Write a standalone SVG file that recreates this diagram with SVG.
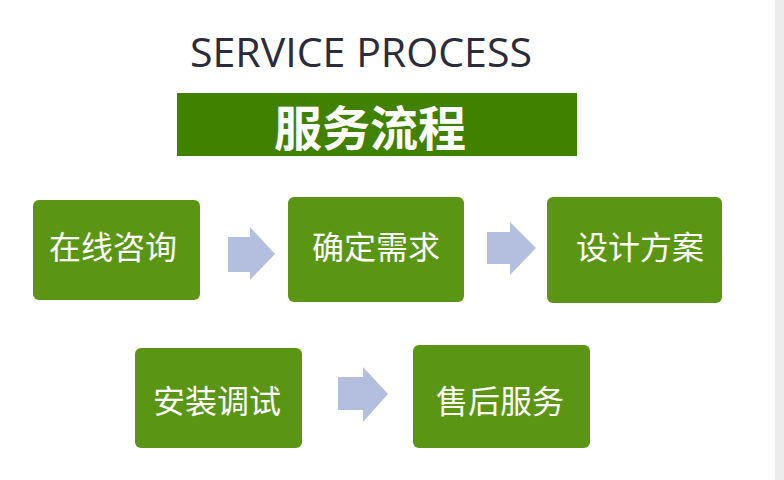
<svg xmlns="http://www.w3.org/2000/svg" width="784" height="480" viewBox="0 0 784 480">
<style>
.box{fill:#5a9614;}
.lbl{font-family:"Noto Sans CJK SC","Noto Sans",sans-serif;font-size:32px;fill:#ffffff;text-anchor:middle;}
.arrow{fill:#b4bfe0;}
</style>
<rect x="0" y="0" width="784" height="480" fill="#ffffff"/>
<rect x="775" y="0" width="9" height="480" fill="#ececec"/>
<g id="title">
<text x="361" y="67" font-family="'Open Sans','Noto Sans',sans-serif" font-size="40" fill="#2b2b3b" text-anchor="middle" textLength="342" lengthAdjust="spacingAndGlyphs">SERVICE PROCESS</text>
</g>
<g id="banner">
<rect x="177" y="93" width="400" height="63" fill="#418100"/>
<text x="370" y="146" font-family="'Noto Sans CJK SC',sans-serif" font-weight="bold" font-size="48" fill="#ffffff" text-anchor="middle">服务流程</text>
</g>
<g id="n1"><rect class="box" x="33" y="200" width="167" height="100" rx="6"/><text class="lbl" x="113" y="259">在线咨询</text></g>
<g id="n2"><rect class="box" x="288" y="197" width="176" height="105" rx="6"/><text class="lbl" x="376" y="259">确定需求</text></g>
<g id="n3"><rect class="box" x="547" y="197" width="175" height="106" rx="6"/><text class="lbl" x="640" y="259">设计方案</text></g>
<g id="n4"><rect class="box" x="135" y="348" width="167" height="100" rx="6"/><text class="lbl" x="217" y="413">安装调试</text></g>
<g id="n5"><rect class="box" x="413" y="345" width="177" height="103" rx="6"/><text class="lbl" x="500" y="413">售后服务</text></g>
<g id="connectors">
<polygon class="arrow" points="228,237 250,237 250,227 275,254 250,280 250,272 228,272"/>
<polygon class="arrow" points="487,232 510,232 510,222 536,248 510,275 510,264 487,264"/>
<polygon class="arrow" points="338,377 363,377 363,367 388,394 363,422 363,410 338,410"/>
</g>
</svg>
